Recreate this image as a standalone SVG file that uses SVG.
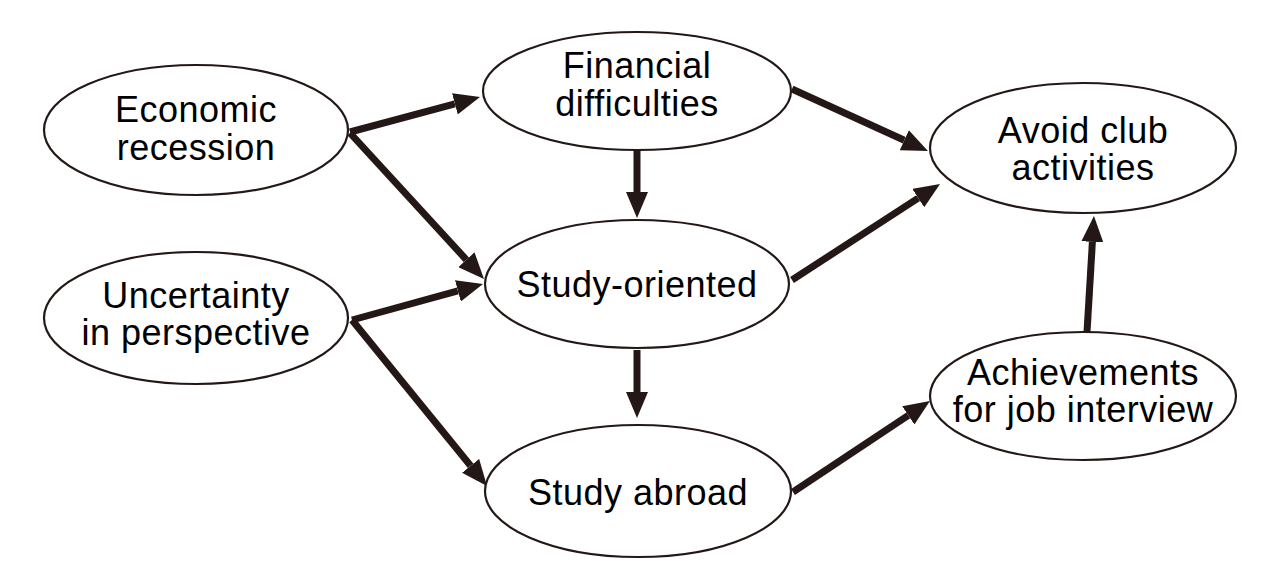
<svg xmlns="http://www.w3.org/2000/svg" width="1280" height="580" viewBox="0 0 1280 580">
<defs>
<marker id="ah" markerUnits="userSpaceOnUse" markerWidth="26" markerHeight="22" refX="0" refY="11" orient="auto">
<path d="M0,0 L26,11 L0,22 z" fill="#231815"/>
</marker>
<style>
.n{fill:#fff;stroke:#231815;stroke-width:2.2}
.t{font-family:"Liberation Sans",Arial,sans-serif;font-size:36px;letter-spacing:0.5px;fill:#000;text-anchor:middle}
.c{stroke:#231815;stroke-width:7;fill:none;marker-end:url(#ah)}
</style>
</defs>
<rect width="1280" height="580" fill="#fff"/>
<g id="connectors">
<line class="c" x1="350" y1="132" x2="454.9" y2="103.8"/>
<line class="c" x1="350" y1="133" x2="466.4" y2="259.8"/>
<line class="c" x1="352" y1="320" x2="457.9" y2="290.9"/>
<line class="c" x1="352" y1="320" x2="470.6" y2="465.8"/>
<line class="c" x1="637" y1="150" x2="637" y2="192"/>
<line class="c" x1="637" y1="350" x2="637" y2="392"/>
<line class="c" x1="792" y1="89" x2="904.3" y2="140.2"/>
<line class="c" x1="792" y1="280" x2="918.2" y2="198.1"/>
<line class="c" x1="793" y1="492" x2="908.3" y2="415.4"/>
<line class="c" x1="1087" y1="332" x2="1092.4" y2="241.9"/>
</g>
<g id="economic">
<ellipse class="n" cx="196" cy="130" rx="152" ry="65"/>
<text class="t" x="196" y="122">Economic</text>
<text class="t" x="196" y="160">recession</text>
</g>
<g id="uncertainty">
<ellipse class="n" cx="196" cy="318" rx="152" ry="66"/>
<text class="t" x="196" y="308">Uncertainty</text>
<text class="t" x="196" y="345">in perspective</text>
</g>
<g id="financial">
<ellipse class="n" cx="637" cy="91" rx="154" ry="59"/>
<text class="t" x="637" y="78">Financial</text>
<text class="t" x="637" y="116">difficulties</text>
</g>
<g id="study-oriented">
<ellipse class="n" cx="637" cy="284" rx="152" ry="64"/>
<text class="t" x="637" y="297">Study-oriented</text>
</g>
<g id="study-abroad">
<ellipse class="n" cx="638" cy="491" rx="153" ry="66"/>
<text class="t" x="638" y="505">Study abroad</text>
</g>
<g id="avoid-club">
<ellipse class="n" cx="1083" cy="148" rx="153" ry="65"/>
<text class="t" x="1083" y="143">Avoid club</text>
<text class="t" x="1083" y="180">activities</text>
</g>
<g id="achievements">
<ellipse class="n" cx="1083" cy="396" rx="153" ry="64"/>
<text class="t" x="1083" y="385">Achievements</text>
<text class="t" x="1083" y="422">for job interview</text>
</g>
</svg>
